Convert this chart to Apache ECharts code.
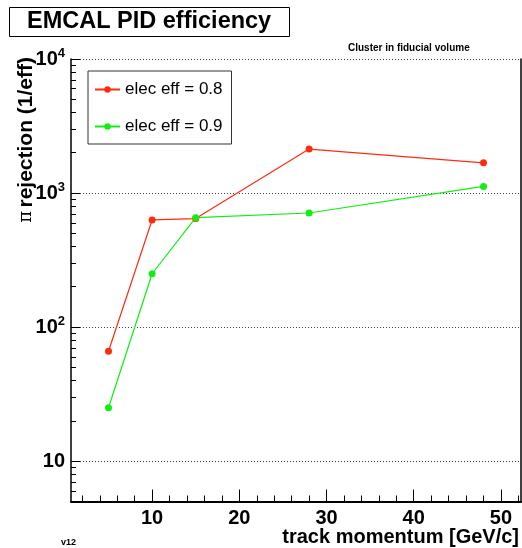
<!DOCTYPE html>
<html>
<head>
<meta charset="utf-8">
<script src="https://cdn.jsdelivr.net/npm/echarts@6/dist/echarts.min.js"></script>
<style>
html,body{margin:0;padding:0;background:#fff;}
#chart{width:522px;height:548px;}
</style>
</head>
<body>
<div id="chart"></div>
<script>
// ---- data ----
const momentum = [5, 10, 15, 28, 48];
const rejEff08 = [66, 630, 645, 2130, 1680];
const rejEff09 = [25, 250, 655, 710, 1120];
const seriesNames = ['elec eff = 0.8', 'elec eff = 0.9'];
const xMajorTicks = [10, 20, 30, 40, 50];
const xMinorTicks = [2, 4, 6, 8, 12, 14, 16, 18, 22, 24, 26, 28, 32, 34, 36, 38, 42, 44, 46, 48, 52];
const yMajorTicks = [10, 100, 1000, 10000];
const yMinorTicks = [6, 7, 8, 9, 20, 30, 40, 50, 60, 70, 80, 90, 200, 300, 400, 500, 600, 700, 800, 900, 2000, 3000, 4000, 5000, 6000, 7000, 8000, 9000];

const FONT = '"Liberation Sans", Arial, Helvetica, sans-serif';
const chart = echarts.init(document.getElementById('chart'), null, {renderer: 'canvas'});

function pairs(xs, ys) { return xs.map((x, i) => [x, ys[i]]); }

const option = {
  backgroundColor: '#fff',
  animation: false,
  textStyle: {fontFamily: FONT},
  title: [
    {
      text: 'EMCAL PID efficiency',
      left: 9, top: 7,
      padding: [2, 19, 2, 18],
      borderColor: '#000', borderWidth: 1,
      textStyle: {fontFamily: FONT, fontSize: 23.5, fontWeight: 'bold', color: '#000', lineHeight: 26}
    },
    {
      text: 'Cluster in fiducial volume',
      left: 348, top: 43, padding: 0,
      textStyle: {fontFamily: FONT, fontSize: 10, fontWeight: 'bold', color: '#000'}
    },
    {
      text: 'v12',
      left: 61, top: 538, padding: 0,
      textStyle: {fontFamily: FONT, fontSize: 9, fontWeight: 'bold', color: '#000'}
    }
  ],
  legend: {
    left: 88, top: 71,
    orient: 'vertical',
    padding: [10, 9, 9, 6],
    itemGap: 20,
    itemWidth: 25, itemHeight: 8,
    borderColor: '#333', borderWidth: 1,
    textStyle: {fontFamily: FONT, fontSize: 17, color: '#000', lineHeight: 16},
    data: seriesNames
  },
  grid: {left: 71, right: 1, top: 59, bottom: 46.5, containLabel: false},
  xAxis: [
    {
      type: 'value', min: 0.7, max: 52.3, position: 'bottom',
      axisLine: {show: true, onZero: false, lineStyle: {color: '#000', width: 2}},
      axisTick: {show: true, inside: true, length: 12, customValues: xMajorTicks, lineStyle: {color: '#000', width: 1}},
      axisLabel: {show: true, customValues: xMajorTicks, margin: 7, color: '#000', fontFamily: FONT, fontSize: 20, fontWeight: 'bold'},
      splitLine: {show: false}
    },
    {
      type: 'value', min: 0.7, max: 52.3, position: 'bottom',
      axisLine: {show: false, onZero: false},
      axisTick: {show: true, inside: true, length: 6, customValues: xMinorTicks, lineStyle: {color: '#000', width: 1}},
      axisLabel: {show: false},
      splitLine: {show: false}
    }
  ],
  yAxis: [
    {
      type: 'log', logBase: 10, min: 5, max: 10000, position: 'left',
      axisLine: {show: true, onZero: false, lineStyle: {color: '#000', width: 1.5}},
      axisTick: {show: true, inside: true, length: 9, customValues: yMajorTicks, lineStyle: {color: '#000', width: 1}},
      axisLabel: {
        show: true, customValues: yMajorTicks, margin: 6, color: '#000',
        formatter: function (v) {
          const e = Math.round(Math.log10(v));
          return e === 1 ? '{b|10}' : '{b|10}{s|' + e + '}';
        },
        rich: {
          b: {fontFamily: FONT, fontSize: 20, fontWeight: 'bold', color: '#000'},
          s: {fontFamily: FONT, fontSize: 13, fontWeight: 'bold', color: '#000', padding: [0, 0, 12, 0]}
        }
      },
      splitLine: {show: true, lineStyle: {color: '#444', width: 1, type: [1, 2]}}
    },
    {
      type: 'log', logBase: 10, min: 5, max: 10000, position: 'left',
      axisLine: {show: false, onZero: false},
      axisTick: {show: true, inside: true, length: 5, customValues: yMinorTicks, lineStyle: {color: '#000', width: 1}},
      axisLabel: {show: false},
      splitLine: {show: false}
    },
    {
      type: 'log', logBase: 10, min: 5, max: 10000, position: 'right',
      axisLine: {show: true, onZero: false, lineStyle: {color: '#000', width: 1.5}},
      axisTick: {show: false},
      axisLabel: {show: false},
      splitLine: {show: false}
    }
  ],
  graphic: [
    {
      type: 'text', x: 26, y: 57, rotation: Math.PI / 2,
      style: {
        text: '{p|\u03c0} {t|rejection (1/eff)}',
        align: 'right', verticalAlign: 'middle',
        rich: {
          p: {fontFamily: '"DejaVu Serif", "Liberation Serif", serif', fontSize: 18, fontWeight: 'normal', fill: '#000'},
          t: {fontFamily: FONT, fontSize: 21, fontWeight: 'bold', fill: '#000'}
        }
      }
    },
    {
      type: 'text', x: 519, y: 537,
      style: {
        text: 'track momentum [GeV/c]',
        align: 'right', verticalAlign: 'middle',
        fontFamily: FONT, fontSize: 20, fontWeight: 'bold', fill: '#000'
      }
    }
  ],
  series: [
    {
      name: seriesNames[0], type: 'line', xAxisIndex: 0, yAxisIndex: 0,
      data: pairs(momentum, rejEff08),
      symbol: 'circle', symbolSize: 7,
      lineStyle: {color: '#ff2b0f', width: 1.2},
      itemStyle: {color: '#ff2b0f'}
    },
    {
      name: seriesNames[1], type: 'line', xAxisIndex: 0, yAxisIndex: 0,
      data: pairs(momentum, rejEff09),
      symbol: 'circle', symbolSize: 7,
      lineStyle: {color: '#11ee11', width: 1.2},
      itemStyle: {color: '#11ee11'}
    }
  ]
};
chart.setOption(option);
</script>
</body>
</html>
